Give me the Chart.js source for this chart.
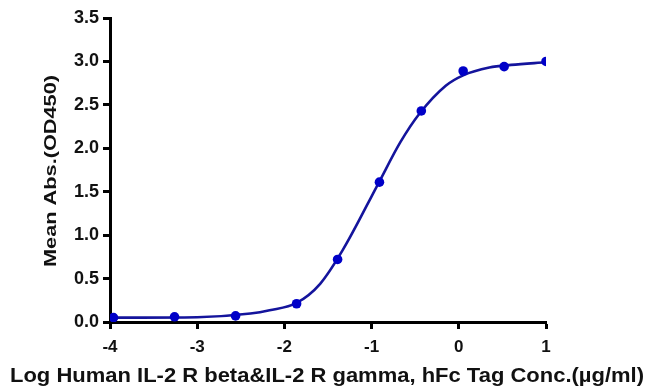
<!DOCTYPE html>
<html>
<head>
<meta charset="utf-8">
<script src="https://cdn.jsdelivr.net/npm/chart.js@4/dist/chart.umd.min.js"></script>
<style>
  html, body { margin: 0; padding: 0; background: #fff; }
</style>
</head>
<body>
<canvas id="chart" width="648" height="389"></canvas>
<script>
const logConc = [-3.96, -3.26, -2.56, -1.86, -1.39, -0.91, -0.43, 0.05, 0.52, 1.0];
const meanAbs = [0.05, 0.06, 0.07, 0.21, 0.72, 1.61, 2.43, 2.89, 2.94, 3.0];

// Fitted curve, also
const curveX = [-3.96, -3.0, -2.39, -2.17, -1.86, -1.59, -1.33, -0.92, -0.67, -0.45, -0.15, 0.05, 0.35, 0.6, 1.0];
const curveY = [0.05, 0.055, 0.097, 0.135, 0.22, 0.44, 0.83, 1.6, 2.07, 2.4, 2.72, 2.84, 2.93, 2.96, 2.99];

const xTitle = "Log Human IL-2 R beta&IL-2 R gamma, hFc Tag Conc.(µg/ml)";
const yTitle = "Mean Abs.(OD450)";

const fontFamily = "Arial, 'Liberation Sans', sans-serif";
const points = logConc.map((x, i) => ({ x: x, y: meanAbs[i] }));
const curve = curveX.map((x, i) => ({ x: x, y: curveY[i] }));

// Axis titles are stretched along their length in the original, so draw them by hand
const axisTitles = {
  id: "axisTitles",
  afterDraw(chart) {
    const c = chart.ctx;
    c.save();
    c.fillStyle = "#111";
    c.textAlign = "center";
    c.textBaseline = "alphabetic";

    c.font = "bold 20.5px " + fontFamily;
    let w = c.measureText(xTitle).width;
    c.translate(327, 382);
    c.scale(634 / w, 1);
    c.fillText(xTitle, 0, 0);
    c.restore();

    c.save();
    c.fillStyle = "#111";
    c.textAlign = "center";
    c.textBaseline = "alphabetic";
    c.font = "bold 16.5px " + fontFamily;
    w = c.measureText(yTitle).width;
    c.translate(56, 171);
    c.rotate(-Math.PI / 2);
    c.scale(192 / w, 1);
    c.fillText(yTitle, 0, 0);
    c.restore();
  },
};

const ctx = document.getElementById("chart");

new Chart(ctx, {
  type: "scatter",
  plugins: [axisTitles],
  data: {
    datasets: [
      {
        data: points,
        showLine: false,
        pointRadius: 4.8,
        pointBackgroundColor: "#0000c8",
        pointBorderColor: "#0000c8",
        pointBorderWidth: 0,
      },
      {
        data: curve,
        showLine: true,
        cubicInterpolationMode: "monotone",
        borderColor: "#14149c",
        borderWidth: 2.6,
        pointRadius: 0,
      },
    ],
  },
  options: {
    responsive: false,
    animation: false,
    layout: { padding: { left: 0, right: 102, top: 18, bottom: 0 } },
    plugins: {
      legend: { display: false },
      tooltip: { enabled: false },
    },
    scales: {
      x: {
        type: "linear",
        min: -4,
        max: 1,
        afterFit: (scale) => { scale.height = 67; },
        border: { color: "#000", width: 3 },
        grid: {
          drawOnChartArea: false,
          drawTicks: true,
          tickLength: 7,
          tickWidth: 3,
          tickColor: "#000",
        },
        ticks: {
          stepSize: 1,
          color: "#111",
          padding: 8,
          font: { family: fontFamily, size: 17, weight: "bold" },
        },
      },
      y: {
        min: 0,
        max: 3.5,
        afterFit: (scale) => { scale.width = 110; },
        border: { color: "#000", width: 3 },
        grid: {
          drawOnChartArea: false,
          drawTicks: true,
          tickLength: 7,
          tickWidth: 3,
          tickColor: "#000",
        },
        ticks: {
          stepSize: 0.5,
          color: "#111",
          padding: 4,
          callback: (v) => v.toFixed(1),
          font: { family: fontFamily, size: 18, weight: "bold" },
        },
      },
    },
  },
});
</script>
</body>
</html>
